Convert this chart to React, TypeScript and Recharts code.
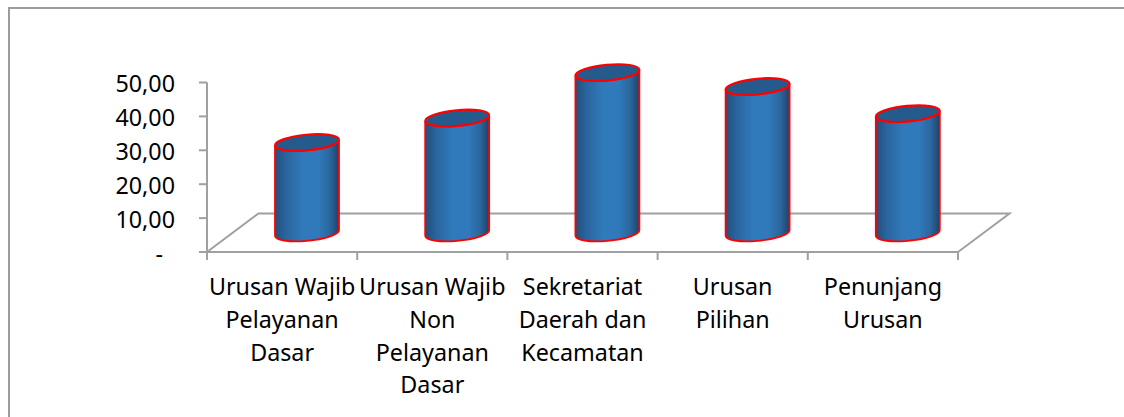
import { BarChart, Bar, XAxis, YAxis } from 'recharts';

const categories = [
  'Urusan Wajib Pelayanan Dasar',
  'Urusan Wajib Non Pelayanan Dasar',
  'Sekretariat Daerah dan Kecamatan',
  'Urusan Pilihan',
  'Penunjang Urusan',
];
const categoryLines = [
  ['Urusan Wajib', 'Pelayanan', 'Dasar'],
  ['Urusan Wajib', 'Non', 'Pelayanan', 'Dasar'],
  ['Sekretariat', 'Daerah dan', 'Kecamatan'],
  ['Urusan', 'Pilihan'],
  ['Penunjang', 'Urusan'],
];
const values = [26.7, 33.9, 47.3, 43.2, 35.2];
const yTicks = [0, 10, 20, 30, 40, 50];

const data = categories.map((category, i) => ({ category, value: values[i] }));

const WIDTH = 1124;
const HEIGHT = 417;
const LEFT = 207;
const RIGHT = 958;
const TOP = 82.5;
const BOTTOM = 252;
const BAND = (RIGHT - LEFT) / categories.length;

// 3d depth of the floor, cylinders stand in the middle of it
const DEPTH_X = 51.5;
const DEPTH_Y = 38.5;
const SHIFT_X = 25;
const SHIFT_Y = 19;

const AXIS_COLOR = '#a0a0a0';
const FONT = '"Noto Sans", sans-serif';
const FONT_SIZE = 23.3;

const formatValue = (v: number) => (v === 0 ? '-' : v.toFixed(2).replace('.', ','));

const YTick = ({ x, y, payload }: any) => (
  <text
    x={payload.value === 0 ? x - 12 : x}
    y={y + 9.5}
    textAnchor="end"
    fontFamily={FONT}
    fontSize={FONT_SIZE}
    fill="#000"
  >
    {formatValue(payload.value)}
  </text>
);

const XTick = ({ x, index }: any) => (
  <g>
    {/* ticks sit between the categories, not under them */}
    <line x1={x - BAND / 2} x2={x - BAND / 2} y1={BOTTOM} y2={BOTTOM + 8} stroke={AXIS_COLOR} strokeWidth={2} />
    {index === categories.length - 1 && (
      <line x1={x + BAND / 2} x2={x + BAND / 2} y1={BOTTOM} y2={BOTTOM + 8} stroke={AXIS_COLOR} strokeWidth={2} />
    )}
    {categoryLines[index].map((line, i) => (
      <text key={line} x={x} y={295 + i * 32.8} textAnchor="middle" fontFamily={FONT} fontSize={FONT_SIZE} fill="#000">
        {line}
      </text>
    ))}
  </g>
);

const Cylinder = ({ x, y, width, height }: any) => {
  const rx = width / 2;
  const ry = 7.8;
  const tilt = -5.4;
  const lift = 2.8;
  const left = x + SHIFT_X;
  const right = left + width;
  const top = y - SHIFT_Y;
  const base = y + height - SHIFT_Y;
  const arc = `${rx} ${ry} ${tilt}`;
  return (
    <g>
      <path
        d={`M${left} ${top + lift} L${left} ${base + lift} A${arc} 0 0 ${right} ${base - lift} L${right} ${top - lift} A${arc} 0 1 ${left} ${top + lift} Z`}
        fill="url(#cylinderSide)"
        stroke="#ff0000"
        strokeWidth={1.8}
      />
      <ellipse
        cx={left + rx}
        cy={top}
        rx={rx}
        ry={ry}
        transform={`rotate(${tilt} ${left + rx} ${top})`}
        fill="#255a8c"
        stroke="#ff0000"
        strokeWidth={2.2}
      />
    </g>
  );
};

const App = () => {
  return (
    <div style={{ position: 'absolute', left: 0, top: 0, width: WIDTH, height: HEIGHT, overflow: 'hidden', background: '#fff' }}>
      <div style={{ position: 'absolute', left: 8, top: 7, width: 2, height: HEIGHT - 7, background: '#9c9c9c' }} />
      <div style={{ position: 'absolute', left: 8, top: 7, right: 0, height: 1.5, background: '#9c9c9c' }} />
      <BarChart
        width={WIDTH}
        height={HEIGHT}
        data={data}
        barSize={64}
        margin={{ top: TOP, right: WIDTH - RIGHT, bottom: 5, left: LEFT - 100 }}
        style={{ position: 'absolute', left: 0, top: 0 }}
      >
        <defs>
          <linearGradient id="cylinderSide" x1="0" y1="0" x2="1" y2="0">
            <stop offset="0" stopColor="#214f7c" />
            <stop offset="0.18" stopColor="#2a669f" />
            <stop offset="0.42" stopColor="#3079ba" />
            <stop offset="0.68" stopColor="#3079ba" />
            <stop offset="0.86" stopColor="#2a669c" />
            <stop offset="1" stopColor="#1e4268" />
          </linearGradient>
        </defs>
        {/* floor of the 3d plot */}
        <path
          d={`M${LEFT} ${BOTTOM} L${LEFT + DEPTH_X} ${BOTTOM - DEPTH_Y} L${RIGHT + DEPTH_X} ${BOTTOM - DEPTH_Y} L${RIGHT} ${BOTTOM}`}
          fill="none"
          stroke={AXIS_COLOR}
          strokeWidth={2}
        />
        <XAxis
          dataKey="category"
          interval={0}
          height={160}
          tickLine={false}
          axisLine={{ stroke: AXIS_COLOR, strokeWidth: 2 }}
          tick={<XTick />}
        />
        <YAxis
          width={100}
          domain={[0, 50]}
          ticks={yTicks}
          tickSize={8}
          tickMargin={24}
          tickLine={{ stroke: AXIS_COLOR, strokeWidth: 2 }}
          axisLine={{ stroke: AXIS_COLOR, strokeWidth: 2 }}
          tick={<YTick />}
        />
        <Bar dataKey="value" isAnimationActive={false} shape={<Cylinder />} />
      </BarChart>
    </div>
  );
};

export default App;
